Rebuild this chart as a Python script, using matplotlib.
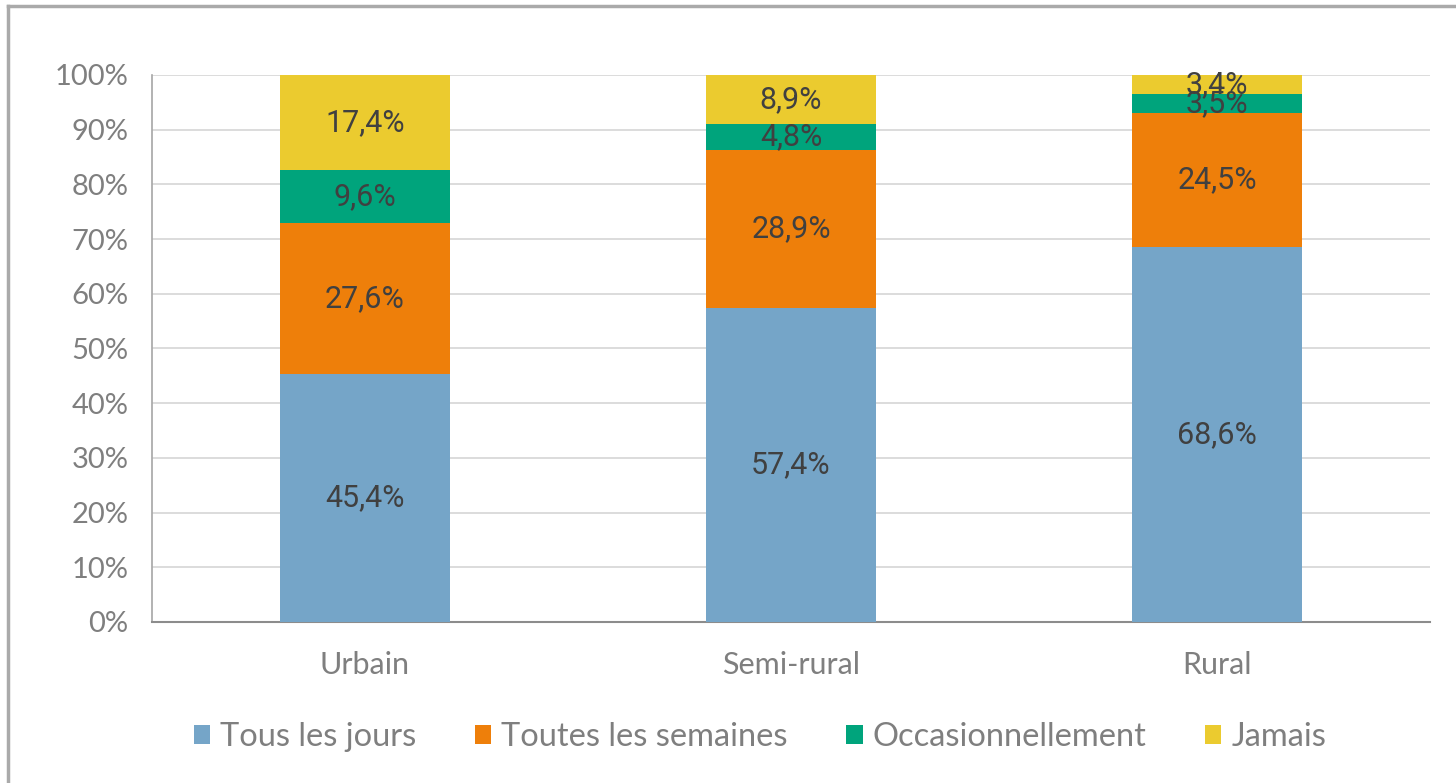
import matplotlib
matplotlib.use("Agg")
import matplotlib.pyplot as plt
from matplotlib.patches import Patch
from matplotlib.lines import Line2D

categories = ["Urbain", "Semi-rural", "Rural"]
series_names = ["Tous les jours", "Toutes les semaines", "Occasionnellement", "Jamais"]
tous_les_jours = [45.4, 57.4, 68.6]
toutes_les_semaines = [27.6, 28.9, 24.5]
occasionnellement = [9.6, 4.8, 3.5]
jamais = [17.4, 8.9, 3.4]
colors = ["#75A5C8", "#EE7F0A", "#00A47C", "#EBCB2F"]
yticks = [0, 10, 20, 30, 40, 50, 60, 70, 80, 90, 100]

series = [tous_les_jours, toutes_les_semaines, occasionnellement, jamais]

fig = plt.figure(figsize=(14.56, 7.83), dpi=100)
ax = fig.add_axes([152/1456, 1-622/783, (1430-152)/1456, (622-75)/783])

x = list(range(len(categories)))
bottom = [0.0]*len(categories)
for vals, col, name in zip(series, colors, series_names):
    ax.bar(x, vals, width=0.4, bottom=bottom, color=col, label=name, zorder=3)
    for xi, v, b in zip(x, vals, bottom):
        ax.text(xi, b + v/2, f"{v:.1f}%".replace(".", ","), ha="center", va="center",
                fontsize=22, color="#404040", family="Roboto", zorder=4)
    bottom = [b + v for b, v in zip(bottom, vals)]

ax.set_xlim(-0.5, 2.5)
ax.set_ylim(0, 100)
ax.set_yticks(yticks)
ax.set_yticklabels([f"{t}%" for t in yticks], fontsize=21, color="#7f7f7f", family="Lato")
ax.set_xticks(x)
ax.set_xticklabels(categories, fontsize=22, color="#7f7f7f", family="Lato")
ax.tick_params(axis="both", length=0)
ax.tick_params(axis="x", pad=21)
ax.tick_params(axis="y", pad=17)
ax.grid(axis="y", color="#d9d9d9", linewidth=1.3, zorder=0)
for s in ["top", "right"]:
    ax.spines[s].set_visible(False)
ax.spines["left"].set_color("#a6a6a6")
ax.spines["left"].set_linewidth(1.2)
ax.spines["bottom"].set_color("#8c8c8c")
ax.spines["bottom"].set_linewidth(1.5)

handles = [Patch(facecolor=c, edgecolor="none") for c in colors]
leg = fig.legend(handles, series_names, loc="center", bbox_to_anchor=(760/1456, 1-737/783),
                 ncol=4, frameon=False, prop={"family": "Lato", "size": 23.5},
                 handlelength=0.5, handleheight=0.5, handletextpad=0.3, columnspacing=1.8)
for t in leg.get_texts():
    t.set_color("#7f7f7f")

# outer frame (top and left edges)
fig.add_artist(Line2D([8/1456, 1.0], [1-6/783, 1-6/783], transform=fig.transFigure, color="#aaaaaa", lw=2.5))
fig.add_artist(Line2D([8/1456, 8/1456], [0.0, 1-6/783], transform=fig.transFigure, color="#aaaaaa", lw=2.5))

fig.savefig("out.png", dpi=100)
